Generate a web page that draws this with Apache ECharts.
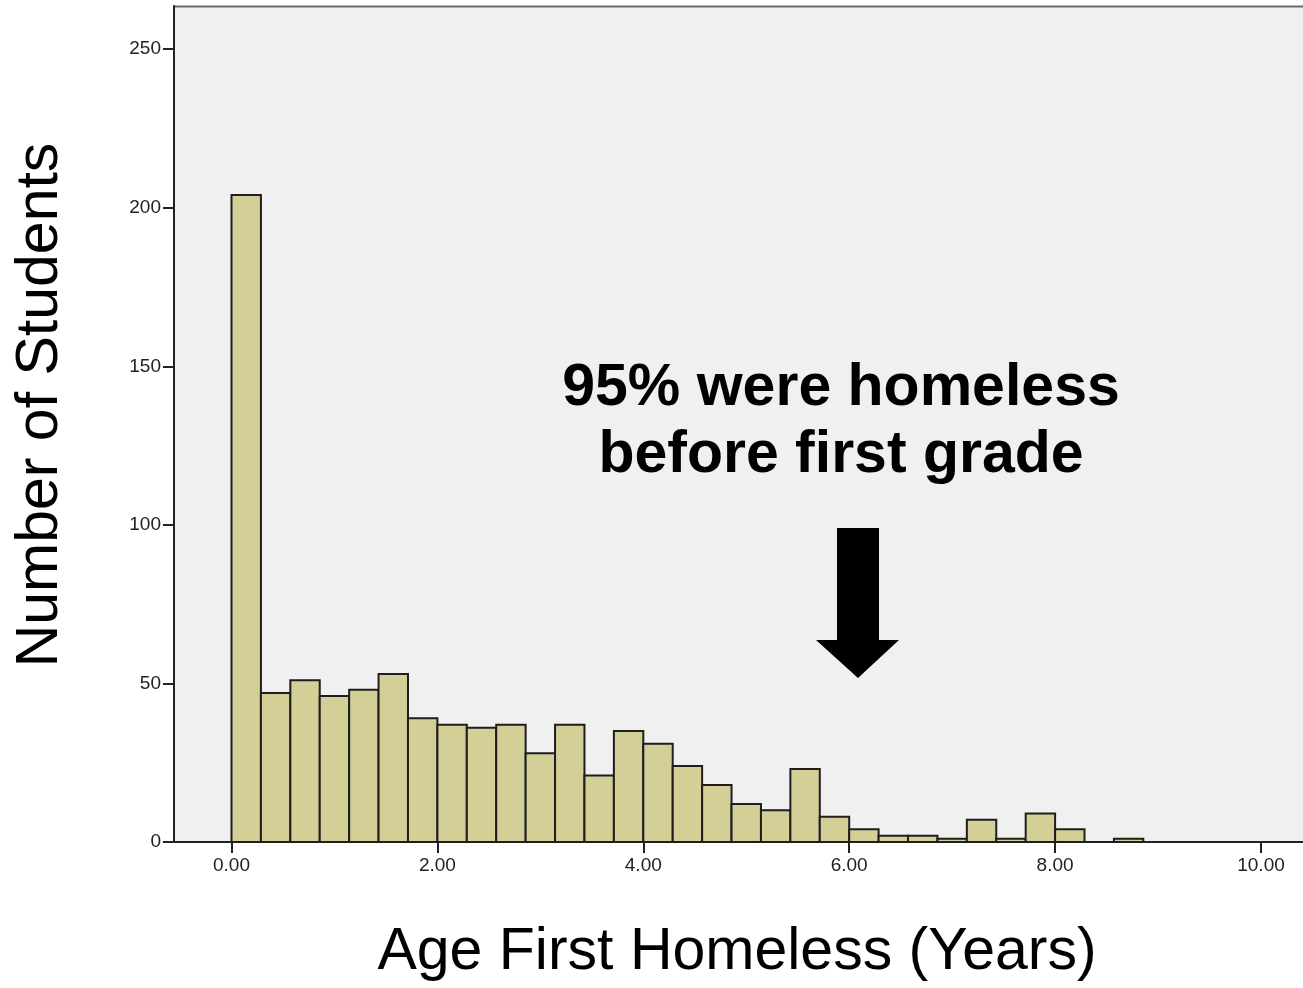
<!DOCTYPE html>
<html>
<head>
<meta charset="utf-8">
<script src="https://cdn.jsdelivr.net/npm/echarts@6/dist/echarts.min.js"></script>
<style>
html,body{margin:0;padding:0;background:#fff;}
#chart{width:1303px;height:988px;}
</style>
</head>
<body>
<div id="chart"></div>
<script>
// Histogram: counts per age bin (years), bins start at 0 with equal width
const binWidth = 2 / 7;
const counts = [204, 47, 51, 46, 48, 53, 39, 37, 36, 37, 28, 37, 21, 35, 31, 24, 18, 12, 10, 23, 8, 4, 2, 2, 1, 7, 1, 9, 4, 0, 1];
const xTicks = [0, 2, 4, 6, 8, 10];
const yTicks = [0, 50, 100, 150, 200, 250];
const xTitle = 'Age First Homeless (Years)';
const yTitle = 'Number of Students';
const noteLines = ['95% were homeless', 'before first grade'];

const binData = counts.map((c, i) => [i * binWidth, (i + 1) * binWidth, c]);

const chart = echarts.init(document.getElementById('chart'), null, {renderer: 'canvas'});
const font = '"Liberation Sans", Arial, sans-serif';

chart.setOption({
  animation: false,
  backgroundColor: '#ffffff',
  grid: {
    left: 174, top: 6, right: 0, bottom: 146,
    show: true, backgroundColor: '#f0f0f0', borderWidth: 0
  },
  xAxis: {
    type: 'value',
    min: -0.5585, max: 10.408,
    axisLine: {show: true, onZero: false, lineStyle: {color: '#222', width: 2}},
    axisTick: {show: true, customValues: xTicks, length: 11, lineStyle: {color: '#222', width: 2}},
    axisLabel: {customValues: xTicks, formatter: v => v.toFixed(2), color: '#222', fontSize: 19, fontFamily: font, margin: 14},
    splitLine: {show: false}
  },
  yAxis: {
    type: 'value',
    min: 0, max: 263.6,
    axisLine: {show: true, onZero: false, lineStyle: {color: '#222', width: 2}},
    axisTick: {show: true, customValues: yTicks, length: 11, lineStyle: {color: '#222', width: 2}},
    axisLabel: {customValues: yTicks, color: '#222', fontSize: 19, fontFamily: font, margin: 13},
    splitLine: {show: false}
  },
  series: [{
    type: 'custom',
    data: binData,
    encode: {x: [0, 1], y: 2},
    renderItem: function (params, api) {
      const p0 = api.coord([api.value(0), 0]);
      const p1 = api.coord([api.value(1), api.value(2)]);
      return {
        type: 'rect',
        shape: {x: p0[0], y: p1[1], width: p1[0] - p0[0], height: p0[1] - p1[1]},
        style: {fill: '#d3cf97', stroke: '#1e1e1e', lineWidth: 2}
      };
    }
  }],
  graphic: [
    {type: 'line', shape: {x1: 174, y1: 6.5, x2: 1303, y2: 6.5}, style: {stroke: '#6a6a6a', lineWidth: 2}},
    {type: 'text', x: 841, y: 389, style: {text: noteLines[0], font: 'bold 59px ' + font, fill: '#000', align: 'center', verticalAlign: 'middle'}},
    {type: 'text', x: 841, y: 456, style: {text: noteLines[1], font: 'bold 59px ' + font, fill: '#000', align: 'center', verticalAlign: 'middle'}},
    {type: 'polygon', shape: {points: [[837, 528], [879, 528], [879, 640], [899, 640], [858, 678], [816, 640], [837, 640]]}, style: {fill: '#000'}},
    {type: 'text', x: 737, y: 953, style: {text: xTitle, font: '59px ' + font, fill: '#000', align: 'center', verticalAlign: 'middle'}},
    {type: 'text', x: 41, y: 405, rotation: Math.PI / 2, style: {text: yTitle, font: '59px ' + font, fill: '#000', align: 'center', verticalAlign: 'middle'}}
  ]
});
</script>
</body>
</html>
